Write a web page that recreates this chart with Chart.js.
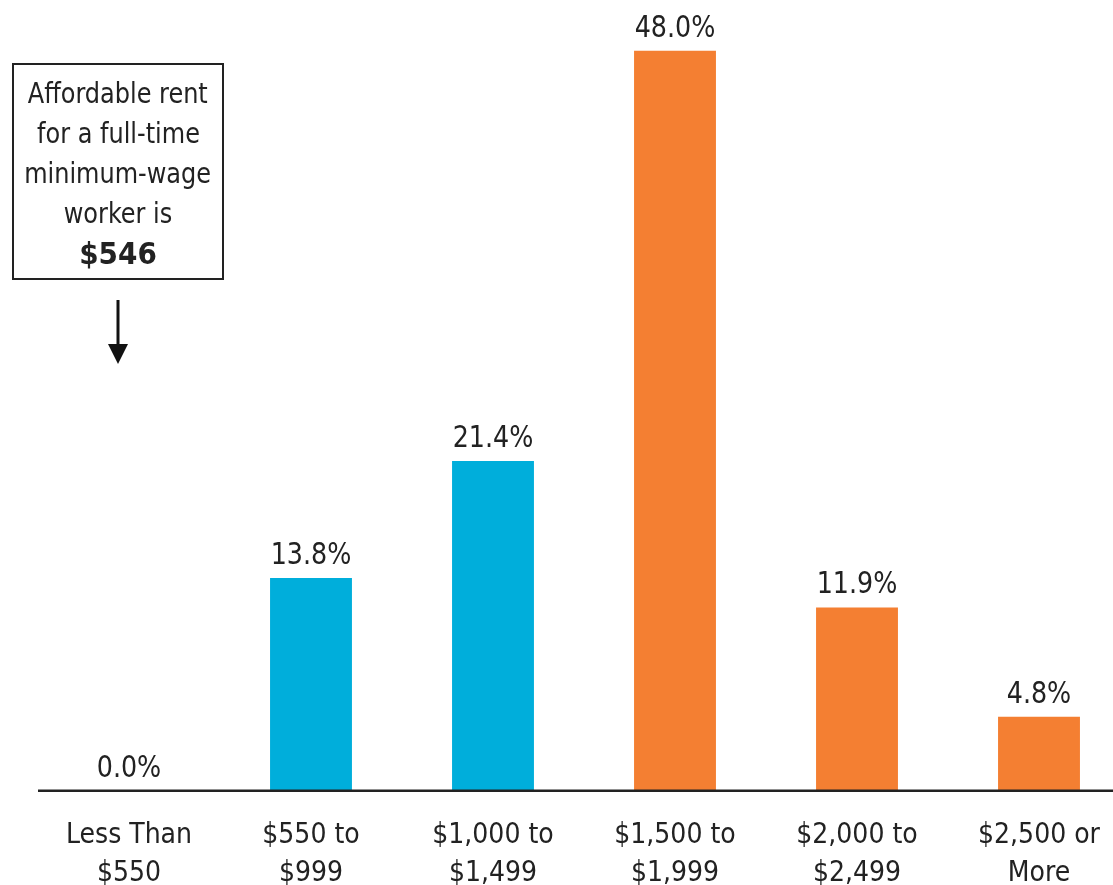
<!DOCTYPE html>
<html>
<head>
<meta charset="utf-8">
<script src="https://cdn.jsdelivr.net/npm/chart.js@4.4.1/dist/chart.umd.min.js"></script>
<style>
  html, body { margin: 0; padding: 0; background: #fff; overflow: hidden; }
  #wrap { position: relative; width: 1113px; height: 885px; overflow: hidden; }
  #chartBox { position: absolute; left: 0; top: 0; width: 1140px; height: 911px; }
  #note {
    position: absolute; left: 12px; top: 63px; width: 208px; height: 205px;
    border: 2px solid #222; box-sizing: content-box;
    font-family: "DejaVu Sans Condensed", sans-serif;
    font-size: 29px; line-height: 40px; color: #222; text-align: center;
    padding-top: 8px;
  }
  #note span { display: inline-block; transform: scaleX(0.92); white-space: nowrap; }
  #note b { font-size: 31px; }
  #arrow { position: absolute; left: 106px; top: 298px; }
</style>
</head>
<body>
<div id="wrap">
  <div id="chartBox"><canvas id="rentChart" width="1140" height="911"></canvas></div>
  <div id="note"><span>Affordable rent</span><br><span>for a full-time</span><br><span>minimum-wage</span><br><span>worker is</span><br><b>$546</b></div>
  <svg id="arrow" width="24" height="70">
    <line x1="12" y1="2" x2="12" y2="50" stroke="#111" stroke-width="3"/>
    <polygon points="2,46 22,46 12,66" fill="#111"/>
  </svg>
</div>
<script>
const categories = [
  ["Less Than", "$550"],
  ["$550 to", "$999"],
  ["$1,000 to", "$1,499"],
  ["$1,500 to", "$1,999"],
  ["$2,000 to", "$2,499"],
  ["$2,500 or", "More"]
];
const shareValues = [0.0, 13.8, 21.4, 48.0, 11.9, 4.8];
const barColors = ["#00aedb", "#00aedb", "#00aedb", "#f47f32", "#f47f32", "#f47f32"];

const fontFamily = '"DejaVu Sans Condensed", sans-serif';

// labels on top of bars
const valueLabels = {
  id: 'valueLabels',
  afterDatasetsDraw(chart) {
    const ctx = chart.ctx;
    const meta = chart.getDatasetMeta(0);
    ctx.save();
    ctx.font = '30px ' + fontFamily;
    ctx.fillStyle = '#222';
    ctx.textAlign = 'center';
    ctx.textBaseline = 'alphabetic';
    meta.data.forEach(function (bar, i) {
      ctx.save();
      ctx.translate(bar.x, bar.y - 14);
      ctx.scale(0.94, 1);
      ctx.fillText(shareValues[i].toFixed(1) + '%', 0, 0);
      ctx.restore();
    });
    ctx.restore();
  }
};

// baseline along the bottom
const baseLine = {
  id: 'baseLine',
  afterDatasetsDraw(chart) {
    const ctx = chart.ctx;
    const y = chart.scales.y.getPixelForValue(0);
    ctx.save();
    ctx.strokeStyle = '#222';
    ctx.lineWidth = 2.5;
    ctx.beginPath();
    ctx.moveTo(chart.chartArea.left, y);
    ctx.lineTo(chart.chartArea.right, y);
    ctx.stroke();
    ctx.restore();
  }
};

new Chart("rentChart", {
  type: 'bar',
  data: {
    labels: categories,
    datasets: [{
      data: shareValues,
      backgroundColor: barColors,
      borderWidth: 0,
      barPercentage: 0.45,
      categoryPercentage: 1.0
    }]
  },
  options: {
    responsive: false,
    animation: false,
    layout: { padding: { left: 38, right: 10, top: 20, bottom: 0 } },
    plugins: {
      legend: { display: false },
      tooltip: { enabled: false }
    },
    scales: {
      x: {
        grid: { display: false },
        border: { display: false },
        ticks: {
          color: '#222',
          font: { family: fontFamily, size: 28, lineHeight: 1.36 },
          padding: 18,
          maxRotation: 0,
          autoSkip: false
        }
      },
      y: {
        display: false,
        min: 0,
        max: 50
      }
    }
  },
  plugins: [valueLabels, baseLine]
});
</script>
</body>
</html>
